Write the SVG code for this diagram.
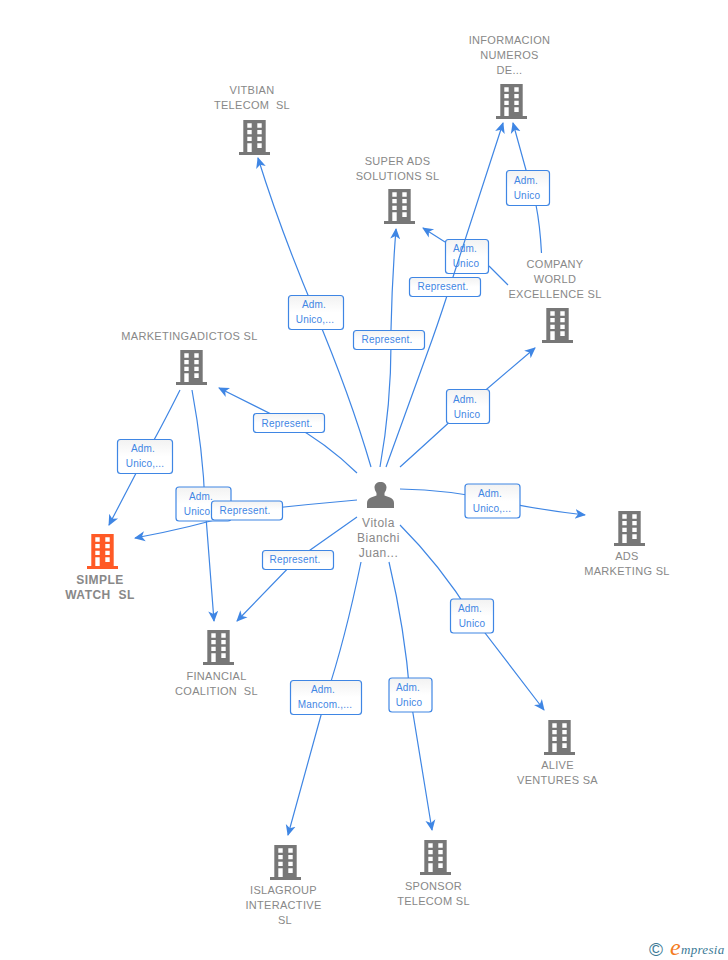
<svg xmlns="http://www.w3.org/2000/svg" width="728" height="960" viewBox="0 0 728 960">
<style>
.n{font:11px "Liberation Sans",Arial,sans-serif;fill:#888;text-anchor:middle;white-space:pre;letter-spacing:.3px}
.b{font-weight:bold;font-size:12px;fill:#888;letter-spacing:.5px}
.p{font-size:12px;letter-spacing:.5px}
.l{font:10px "Liberation Sans",Arial,sans-serif;fill:#3f86e4;text-anchor:middle;letter-spacing:.2px}
.box{fill:url(#g);stroke:#3f86e4;stroke-width:1.2}
.e{fill:none;stroke:#3f86e4;stroke-width:1.2;marker-end:url(#a)}
</style>
<defs>
<linearGradient id="g" x1="0" y1="0" x2="0" y2="1"><stop offset="0" stop-color="#f2f2f2"/><stop offset=".5" stop-color="#fff"/><stop offset="1" stop-color="#fff"/></linearGradient>
<marker id="a" markerUnits="userSpaceOnUse" markerWidth="12" markerHeight="12" refX="10" refY="5" orient="auto" viewBox="0 0 12 10"><path d="M0 0L11 5L0 10L3 5z" fill="#3f86e4"/></marker>
<symbol id="bld" viewBox="0 0 32 35" width="32" height="35" overflow="visible">
<path fill-rule="evenodd" d="M4.300 0H26.700V32H31V35H0V32H4.300ZM8.300 3.300V7.700H12.700V3.300ZM18.300 3.300V7.700H22.700V3.300ZM8.300 10V14.300H12.700V10ZM18.300 10V14.300H22.700V10ZM8.300 16.700V21H12.700V16.700ZM18.300 16.700V21H22.700V16.700ZM8.300 23.300V32H12.700V23.300ZM18.300 23.300V28H22.700V23.300Z"/>
</symbol>
</defs>
<g id="edge-labels-under">
<g><rect class="box" x="445.500" y="239.500" width="43" height="34" rx="3"/><text class="l" x="465" y="252">Adm.</text><text class="l" x="466" y="267">Unico</text></g>
</g>
<g id="connectors">
<path class="e" d="M371 467Q350 395 315 312T258 158"/>
<path class="e" d="M380 467Q392 400 391 330Q392 280 396 229"/>
<path class="e" d="M386 467L432 340Q442 312 453 277L503 123"/>
<path class="e" d="M541.500 253Q540 225 536 205L526 170L513 123"/>
<path class="e" d="M508 285L489 266M445 242L423 228"/>
<path class="e" d="M400 467Q430 440 467 406L535 348"/>
<path class="e" d="M357 473Q325 442 289 423L219 388"/>
<path class="e" d="M180 390Q160 430 145 456L109 525"/>
<path class="e" d="M192 390Q203 450 205 504L214 621"/>
<path class="e" d="M357 500Q300 505 246 511Q190 528 135 538"/>
<path class="e" d="M357 517L296 560L237 621"/>
<path class="e" d="M400 489Q450 490 493 500Q540 510 585 515"/>
<path class="e" d="M400 525Q440 565 472 616L544 710"/>
<path class="e" d="M361 562Q345 640 326 697L288 835"/>
<path class="e" d="M389 562Q405 630 410 695L432 830"/>
</g>
<g id="edge-labels">
<g><rect class="box" x="288.500" y="295.500" width="55" height="34" rx="3"/><text class="l" x="314" y="308">Adm.</text><text class="l" x="315" y="323">Unico,...</text></g>
<g><rect class="box" x="353.500" y="330.500" width="71" height="19" rx="3"/><text class="l" x="387" y="343">Represent.</text></g>
<g><rect class="box" x="409.500" y="277.500" width="71" height="19" rx="3"/><text class="l" x="443" y="290">Represent.</text></g>
<g><rect class="box" x="506.500" y="170.500" width="43" height="35" rx="3"/><text class="l" x="526" y="184">Adm.</text><text class="l" x="527" y="199">Unico</text></g>
<g><rect class="box" x="446.500" y="389.500" width="43" height="34" rx="3"/><text class="l" x="465" y="403">Adm.</text><text class="l" x="467" y="418">Unico</text></g>
<g><rect class="box" x="253.500" y="413.500" width="71" height="19" rx="3"/><text class="l" x="287" y="427">Represent.</text></g>
<g><rect class="box" x="117.500" y="439.500" width="55" height="34" rx="3"/><text class="l" x="143" y="452">Adm.</text><text class="l" x="145" y="467">Unico,...</text></g>
<g><rect class="box" x="176" y="487" width="55" height="34" rx="3"/><text class="l" x="201" y="500">Adm.</text><text class="l" x="203" y="515">Unico,...</text></g>
<g><rect class="box" x="211.500" y="501" width="71" height="19" rx="3"/><text class="l" x="245" y="514">Represent.</text></g>
<g><rect class="box" x="262.500" y="550.500" width="71" height="19" rx="3"/><text class="l" x="295" y="563">Represent.</text></g>
<g><rect class="box" x="465" y="484" width="55" height="34" rx="3"/><text class="l" x="490" y="497">Adm.</text><text class="l" x="492" y="512">Unico,...</text></g>
<g><rect class="box" x="450.500" y="599" width="43" height="34" rx="3"/><text class="l" x="470" y="612">Adm.</text><text class="l" x="472" y="627">Unico</text></g>
<g><rect class="box" x="290.500" y="680.500" width="71" height="34" rx="3"/><text class="l" x="323" y="693">Adm.</text><text class="l" x="325" y="708">Mancom.,...</text></g>
<g><rect class="box" x="389" y="678" width="43" height="34" rx="3"/><text class="l" x="408" y="691">Adm.</text><text class="l" x="409" y="706">Unico</text></g>
</g>
<g id="n-informacion"><use href="#bld" x="496" y="84" fill="#777"/><text class="n" x="509.500" y="44">INFORMACION</text><text class="n" x="509.500" y="59">NUMEROS</text><text class="n" x="509.500" y="74">DE...</text></g>
<g id="n-vitbian"><use href="#bld" x="239" y="120" fill="#777"/><text class="n" x="252" y="94">VITBIAN</text><text class="n" x="252" y="109">TELECOM  SL</text></g>
<g id="n-superads"><use href="#bld" x="384" y="189" fill="#777"/><text class="n" x="397.500" y="165">SUPER ADS</text><text class="n" x="397.500" y="180">SOLUTIONS SL</text></g>
<g id="n-company"><use href="#bld" x="542" y="308" fill="#777"/><text class="n" x="555" y="268">COMPANY</text><text class="n" x="555" y="283">WORLD</text><text class="n" x="555" y="298">EXCELLENCE SL</text></g>
<g id="n-marketing"><use href="#bld" x="176" y="350" fill="#777"/><text class="n" x="189.500" y="340">MARKETINGADICTOS SL</text></g>
<g id="n-simple"><use href="#bld" x="87" y="534" fill="#ff5a26"/><text class="n b" x="100" y="584">SIMPLE</text><text class="n b" x="100" y="599">WATCH  SL</text></g>
<g id="n-financial"><use href="#bld" x="203" y="630" fill="#777"/><text class="n" x="216.500" y="680">FINANCIAL</text><text class="n" x="216.500" y="695">COALITION  SL</text></g>
<g id="n-ads"><use href="#bld" x="614" y="511" fill="#777"/><text class="n" x="627" y="560">ADS</text><text class="n" x="627" y="575">MARKETING SL</text></g>
<g id="n-alive"><use href="#bld" x="544" y="720" fill="#777"/><text class="n" x="557.500" y="769">ALIVE</text><text class="n" x="557.500" y="784">VENTURES SA</text></g>
<g id="n-islagroup"><use href="#bld" x="270" y="845" fill="#777"/><text class="n" x="283.500" y="894">ISLAGROUP</text><text class="n" x="283.500" y="909">INTERACTIVE</text><text class="n" x="285" y="924">SL</text></g>
<g id="n-sponsor"><use href="#bld" x="420" y="840" fill="#777"/><text class="n" x="433.500" y="890">SPONSOR</text><text class="n" x="433.500" y="905">TELECOM SL</text></g>
<g id="n-person"><path fill="#777" d="M367 508V503Q367 499 371 497.500L376.500 495.500V493Q374.500 490.500 374.500 487.500C374.500 484 377 482 380.500 482C384 482 386.500 484 386.500 487.500Q386.500 490.500 384.500 493V495.500L390 497.500Q394 499 394 503V508Z"/><text class="n p" x="378.500" y="527">Vitola</text><text class="n p" x="378.500" y="542">Bianchi</text><text class="n p" x="378.500" y="557">Juan...</text></g>
<g id="logo"><text x="649" y="956" style="font:19px 'Liberation Sans',sans-serif;fill:#3b7a96">©</text><text x="670" y="955" style="font:italic 24px 'Liberation Serif',serif;fill:#f47b20">e</text><text x="681" y="954" style="font:italic 13px 'Liberation Serif',serif;fill:#3b7a96;letter-spacing:.3px">mpresia</text></g>
</svg>
